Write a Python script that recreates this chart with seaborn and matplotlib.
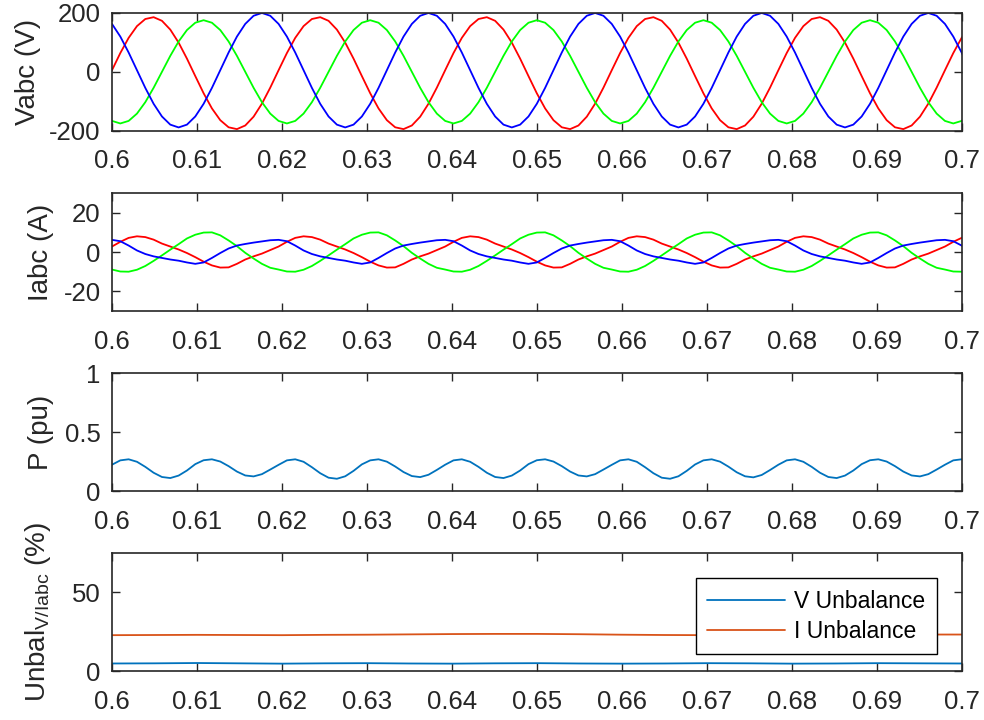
import numpy as np
import matplotlib
matplotlib.use("Agg")
import matplotlib.pyplot as plt
import seaborn as sns

# sample instants of the recorded traces (s), one sample every 0.98 ms
t = 0.6 + 0.00098 * np.arange(104)

# phase voltages (V)
va = [4.9, 63.1, 114.6, 154.4, 178.5, 184.7, 172.4, 142.6, 98.5, 44.2, -14.9, -73.1, -124.6, -164.4, -188.5, -194.7, -182.4, -152.6, -108.5, -54.2,
      4.9, 63.1, 114.6, 154.4, 178.5, 184.7, 172.4, 142.6, 98.5, 44.2, -14.9, -73.1, -124.6, -164.4, -188.5, -194.7, -182.4, -152.6, -108.5, -54.2,
      4.9, 63.1, 114.6, 154.4, 178.5, 184.7, 172.4, 142.6, 98.5, 44.2, -14.9, -73.1, -124.6, -164.4, -188.5, -194.7, -182.4, -152.6, -108.5, -54.2,
      4.9, 63.1, 114.6, 154.4, 178.5, 184.7, 172.4, 142.6, 98.5, 44.2, -14.9, -73.1, -124.6, -164.4, -188.5, -194.7, -182.4, -152.6, -108.5, -54.2,
      4.9, 63.1, 114.6, 154.4, 178.5, 184.7, 172.4, 142.6, 98.5, 44.2, -14.9, -73.1, -124.6, -164.4, -188.5, -194.7, -182.4, -152.6, -108.5, -54.2,
      4.9, 63.1, 114.6, 154.4]
vb = [-166.9, -175.5, -166.9, -142.1, -103.4, -54.6, -0.5, 53.6, 102.4, 141.1, 165.9, 174.5, 165.9, 141.1, 102.4, 53.6, -0.5, -54.6, -103.4, -142.1,
      -166.9, -175.5, -166.9, -142.1, -103.4, -54.6, -0.5, 53.6, 102.4, 141.1, 165.9, 174.5, 165.9, 141.1, 102.4, 53.6, -0.5, -54.6, -103.4, -142.1,
      -166.9, -175.5, -166.9, -142.1, -103.4, -54.6, -0.5, 53.6, 102.4, 141.1, 165.9, 174.5, 165.9, 141.1, 102.4, 53.6, -0.5, -54.6, -103.4, -142.1,
      -166.9, -175.5, -166.9, -142.1, -103.4, -54.6, -0.5, 53.6, 102.4, 141.1, 165.9, 174.5, 165.9, 141.1, 102.4, 53.6, -0.5, -54.6, -103.4, -142.1,
      -166.9, -175.5, -166.9, -142.1, -103.4, -54.6, -0.5, 53.6, 102.4, 141.1, 165.9, 174.5, 165.9, 141.1, 102.4, 53.6, -0.5, -54.6, -103.4, -142.1,
      -166.9, -175.5, -166.9, -142.1]
vc = [161.9, 119.0, 64.9, 5.0, -54.9, -109.0, -151.9, -179.5, -189.0, -179.5, -151.9, -109.0, -54.9, 5.0, 64.9, 119.0, 161.9, 189.5, 199.0, 189.5,
      161.9, 119.0, 64.9, 5.0, -54.9, -109.0, -151.9, -179.5, -189.0, -179.5, -151.9, -109.0, -54.9, 5.0, 64.9, 119.0, 161.9, 189.5, 199.0, 189.5,
      161.9, 119.0, 64.9, 5.0, -54.9, -109.0, -151.9, -179.5, -189.0, -179.5, -151.9, -109.0, -54.9, 5.0, 64.9, 119.0, 161.9, 189.5, 199.0, 189.5,
      161.9, 119.0, 64.9, 5.0, -54.9, -109.0, -151.9, -179.5, -189.0, -179.5, -151.9, -109.0, -54.9, 5.0, 64.9, 119.0, 161.9, 189.5, 199.0, 189.5,
      161.9, 119.0, 64.9, 5.0, -54.9, -109.0, -151.9, -179.5, -189.0, -179.5, -151.9, -109.0, -54.9, 5.0, 64.9, 119.0, 161.9, 189.5, 199.0, 189.5,
      161.9, 119.0, 64.9, 5.0]

# phase currents (A)
ia = [2.8, 5.2, 7.2, 8.0, 7.6, 6.3, 4.3, 2.8, 1.3, -0.5, -2.6, -4.9, -6.8, -7.9, -7.8, -6.0, -3.8, -2.2, -0.8, 1.0,
      2.8, 5.2, 7.2, 8.0, 7.6, 6.3, 4.3, 2.8, 1.3, -0.5, -2.6, -4.9, -6.8, -7.9, -7.8, -6.0, -3.8, -2.2, -0.8, 1.0,
      2.8, 5.2, 7.2, 8.0, 7.6, 6.3, 4.3, 2.8, 1.3, -0.5, -2.6, -4.9, -6.8, -7.9, -7.8, -6.0, -3.8, -2.2, -0.8, 1.0,
      2.8, 5.2, 7.2, 8.0, 7.6, 6.3, 4.3, 2.8, 1.3, -0.5, -2.6, -4.9, -6.8, -7.9, -7.8, -6.0, -3.8, -2.2, -0.8, 1.0,
      2.8, 5.2, 7.2, 8.0, 7.6, 6.3, 4.3, 2.8, 1.3, -0.5, -2.6, -4.9, -6.8, -7.9, -7.8, -6.0, -3.8, -2.2, -0.8, 1.0,
      2.8, 5.2, 7.2, 8.0]
ib = [-8.9, -9.9, -10.0, -9.0, -7.1, -4.5, -1.7, 1.2, 4.0, 6.9, 8.8, 9.9, 10.0, 8.5, 5.9, 3.0, -0.4, -3.3, -6.0, -8.0,
      -8.9, -9.9, -10.0, -9.0, -7.1, -4.5, -1.7, 1.2, 4.0, 6.9, 8.8, 9.9, 10.0, 8.5, 5.9, 3.0, -0.4, -3.3, -6.0, -8.0,
      -8.9, -9.9, -10.0, -9.0, -7.1, -4.5, -1.7, 1.2, 4.0, 6.9, 8.8, 9.9, 10.0, 8.5, 5.9, 3.0, -0.4, -3.3, -6.0, -8.0,
      -8.9, -9.9, -10.0, -9.0, -7.1, -4.5, -1.7, 1.2, 4.0, 6.9, 8.8, 9.9, 10.0, 8.5, 5.9, 3.0, -0.4, -3.3, -6.0, -8.0,
      -8.9, -9.9, -10.0, -9.0, -7.1, -4.5, -1.7, 1.2, 4.0, 6.9, 8.8, 9.9, 10.0, 8.5, 5.9, 3.0, -0.4, -3.3, -6.0, -8.0,
      -8.9, -9.9, -10.0, -9.0]
ic = [6.2, 5.5, 3.3, 0.8, -1.0, -2.2, -3.0, -3.8, -4.4, -5.3, -6.0, -5.3, -3.0, -0.5, 1.8, 3.3, 4.1, 4.8, 5.4, 6.0,
      6.2, 5.5, 3.3, 0.8, -1.0, -2.2, -3.0, -3.8, -4.4, -5.3, -6.0, -5.3, -3.0, -0.5, 1.8, 3.3, 4.1, 4.8, 5.4, 6.0,
      6.2, 5.5, 3.3, 0.8, -1.0, -2.2, -3.0, -3.8, -4.4, -5.3, -6.0, -5.3, -3.0, -0.5, 1.8, 3.3, 4.1, 4.8, 5.4, 6.0,
      6.2, 5.5, 3.3, 0.8, -1.0, -2.2, -3.0, -3.8, -4.4, -5.3, -6.0, -5.3, -3.0, -0.5, 1.8, 3.3, 4.1, 4.8, 5.4, 6.0,
      6.2, 5.5, 3.3, 0.8, -1.0, -2.2, -3.0, -3.8, -4.4, -5.3, -6.0, -5.3, -3.0, -0.5, 1.8, 3.3, 4.1, 4.8, 5.4, 6.0,
      6.2, 5.5, 3.3, 0.8]

# active power (pu)
p = [0.223, 0.260, 0.269, 0.248, 0.205, 0.155, 0.119, 0.110, 0.131, 0.174,
     0.228, 0.261, 0.269, 0.250, 0.211, 0.165, 0.132, 0.124, 0.143, 0.182,
     0.222, 0.260, 0.269, 0.248, 0.202, 0.151, 0.113, 0.104, 0.125, 0.171,
     0.226, 0.260, 0.269, 0.249, 0.208, 0.161, 0.127, 0.118, 0.138, 0.179,
     0.223, 0.260, 0.269, 0.248, 0.205, 0.155, 0.119, 0.110, 0.131, 0.174,
     0.228, 0.261, 0.269, 0.250, 0.211, 0.165, 0.132, 0.124, 0.143, 0.182,
     0.222, 0.260, 0.269, 0.248, 0.202, 0.151, 0.113, 0.104, 0.125, 0.171,
     0.225, 0.260, 0.269, 0.249, 0.207, 0.159, 0.125, 0.116, 0.136, 0.178,
     0.223, 0.260, 0.269, 0.248, 0.205, 0.155, 0.119, 0.110, 0.131, 0.174,
     0.228, 0.261, 0.269, 0.250, 0.211, 0.165, 0.132, 0.124, 0.143, 0.182,
     0.223, 0.260, 0.269, 0.248]

# unbalance factors (%), every 5 ms
t_unb = [0.600, 0.605, 0.610, 0.615, 0.620, 0.625, 0.630, 0.635, 0.640, 0.645, 0.650,
         0.655, 0.660, 0.665, 0.670, 0.675, 0.680, 0.685, 0.690, 0.695, 0.700]
v_unb = [4.8, 4.9, 5.1, 4.9, 4.7, 4.9, 5.0, 4.8, 4.7, 4.9, 5.0,
         4.8, 4.7, 4.8, 5.0, 4.9, 4.7, 4.8, 5.0, 4.9, 4.8]
i_unb = [22.8, 22.9, 23.0, 22.9, 22.8, 23.0, 23.1, 23.3, 23.5, 23.6, 23.6,
         23.4, 23.1, 22.9, 22.8, 23.0, 23.2, 23.3, 23.3, 23.2, 23.2]

xticks = [0.6, 0.61, 0.62, 0.63, 0.64, 0.65, 0.66, 0.67, 0.68, 0.69, 0.7]
xticklabels = ["0.6", "0.61", "0.62", "0.63", "0.64", "0.65", "0.66", "0.67", "0.68", "0.69", "0.7"]

sns.set_theme(style="white")
plt.rcParams["font.family"] = ["Liberation Sans", "DejaVu Sans"]
plt.rcParams["mathtext.default"] = "regular"
plt.rcParams["axes.unicode_minus"] = False

INK = "#262626"
fig = plt.figure(figsize=(9.84, 7.2), dpi=100)

left, width, height = 0.1138, 0.8638, 0.1639
bottoms = [0.8185, 0.568, 0.318, 0.068]
axes = [fig.add_axes([left, b, width, height]) for b in bottoms]


def style_axis(ax, ylim, yticks, yticklabels, ylabel, label_x):
    ax.set_xlim(0.6, 0.7)
    ax.set_ylim(*ylim)
    ax.set_xticks(xticks)
    ax.set_xticklabels(xticklabels)
    ax.set_yticks(yticks)
    ax.set_yticklabels(yticklabels)
    ax.set_xlabel("")
    ax.set_ylabel(ylabel, fontsize=20, color=INK)
    ax.yaxis.set_label_coords(label_x, 0.5)
    ax.tick_params(which="both", direction="in", top=True, right=True, bottom=True, left=True,
                   length=5.5, width=1.0, colors=INK, labelsize=18.5)
    ax.tick_params(axis="x", pad=13.5)
    ax.tick_params(axis="y", pad=8)
    for s in ax.spines.values():
        s.set_color(INK)
        s.set_linewidth(1.2)


lw = 1.3
ax = axes[0]
sns.lineplot(x=t, y=va, ax=ax, color="#ff0000", linewidth=lw, estimator=None, sort=False)
sns.lineplot(x=t, y=vb, ax=ax, color="#00ff00", linewidth=lw, estimator=None, sort=False)
sns.lineplot(x=t, y=vc, ax=ax, color="#0000ff", linewidth=lw, estimator=None, sort=False)
style_axis(ax, (-200, 200), [-200, 0, 200], ["-200", "0", "200"], "Vabc (V)", -0.0838)

ax = axes[1]
sns.lineplot(x=t, y=ia, ax=ax, color="#ff0000", linewidth=lw, estimator=None, sort=False)
sns.lineplot(x=t, y=ib, ax=ax, color="#00ff00", linewidth=lw, estimator=None, sort=False)
sns.lineplot(x=t, y=ic, ax=ax, color="#0000ff", linewidth=lw, estimator=None, sort=False)
style_axis(ax, (-30, 30), [-20, 0, 20], ["-20", "0", "20"], "Iabc (A)", -0.0685)

ax = axes[2]
sns.lineplot(x=t, y=p, ax=ax, color="#0072bd", linewidth=lw, estimator=None, sort=False)
style_axis(ax, (0, 1), [0, 0.5, 1], ["0", "0.5", "1"], "P (pu)", -0.0685)

ax = axes[3]
sns.lineplot(x=t_unb, y=v_unb, ax=ax, color="#0072bd", linewidth=lw, estimator=None, sort=False)
sns.lineplot(x=t_unb, y=i_unb, ax=ax, color="#d95319", linewidth=lw, estimator=None, sort=False)
style_axis(ax, (0, 75), [0, 50], ["0", "50"], r"Unbal$_{V/Iabc}$ (%)", -0.0694)
leg = ax.legend(handles=ax.lines[:2], labels=["V Unbalance", "I Unbalance"],
                loc="upper right", bbox_to_anchor=(0.9706, 0.786), borderaxespad=0,
                fontsize=16.5, frameon=True, fancybox=False, framealpha=1, edgecolor="black",
                handlelength=3.4, handletextpad=0.4, labelspacing=0.3, borderpad=0.5)
leg.get_frame().set_linewidth(1.0)
for txt in leg.get_texts():
    txt.set_color("black")

fig.savefig("out.png", dpi=100, facecolor="white")
